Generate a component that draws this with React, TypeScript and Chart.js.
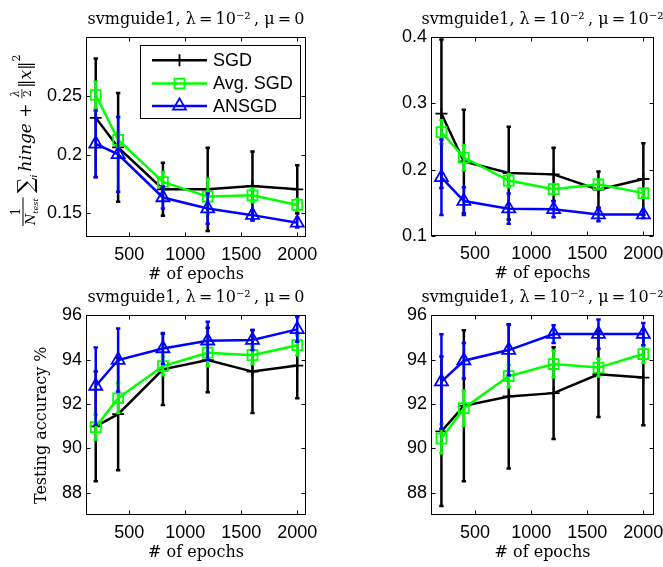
import React, { useEffect, useRef } from 'react';
import { Chart, registerables } from 'chart.js';
import { drawPoint } from 'chart.js/helpers';

Chart.register(...registerables);

// ---------------- data ----------------
const epochs = [200, 400, 800, 1200, 1600, 2000];
const xTickValues = [500, 1000, 1500, 2000];
const seriesNames = ['SGD', 'Avg. SGD', 'ANSGD'];

const TS = '\u2009';
const titleMu0 = `svmguide1, λ${TS}=${TS}10⁻²${TS}, μ${TS}=${TS}0`;
const titleMu2 = `svmguide1, λ${TS}=${TS}10⁻²${TS}, μ${TS}=${TS}10⁻²`;
const xAxisTitle = '# of epochs';
const accAxisTitle = 'Testing accuracy %    ';

// objective, mu = 0
const objMu0Sgd = [0.2314, 0.2062, 0.1706, 0.1706, 0.1734, 0.1706];
const objMu0SgdErr = [0.0505, 0.0463, 0.0226, 0.0354, 0.0293, 0.0205];
const objMu0Avg = [0.2508, 0.2127, 0.1768, 0.1644, 0.1655, 0.1573];
const objMu0AvgErr = [0.0113, 0.006, 0.0085, 0.015, 0.0057, 0.005];
const objMu0Ans = [0.2093, 0.2003, 0.1636, 0.1542, 0.1486, 0.1421];
const objMu0AnsErr = [0.0283, 0.0317, 0.0093, 0.0129, 0.004, 0.004];

// objective, mu = 1e-2
const objMu2Sgd = [0.2846, 0.2124, 0.195, 0.193, 0.17, 0.186];
const objMu2SgdErr = [0.112, 0.078, 0.07, 0.04, 0.0275, 0.054];
const objMu2Avg = [0.2567, 0.2184, 0.1836, 0.1706, 0.178, 0.1647];
const objMu2AvgErr = [0.018, 0.019, 0.01, 0.008, 0.007, 0.005];
const objMu2Ans = [0.1886, 0.1527, 0.1413, 0.1403, 0.1323, 0.1323];
const objMu2AnsErr = [0.057, 0.021, 0.023, 0.012, 0.01, 0.005];

// accuracy, mu = 0
const accMu0Sgd = [90.99, 91.54, 93.56, 93.98, 93.46, 93.73];
const accMu0SgdErr = [2.47, 2.52, 1.6, 1.45, 1.87, 1.47];
const accMu0Avg = [90.96, 92.26, 93.71, 94.31, 94.2, 94.65];
const accMu0AvgErr = [0.56, 0.67, 0.42, 0.6, 0.4, 0.45];
const accMu0Ans = [92.81, 93.98, 94.5, 94.85, 94.88, 95.36];
const accMu0AnsErr = [1.74, 1.42, 0.7, 0.86, 0.45, 0.56];

// accuracy, mu = 1e-2
const accMu2Sgd = [90.77, 91.92, 92.34, 92.49, 93.34, 93.19];
const accMu2SgdErr = [3.37, 3.4, 3.25, 2.07, 1.93, 2.15];
const accMu2Avg = [90.44, 91.81, 93.26, 93.8, 93.64, 94.25];
const accMu2AvgErr = [0.66, 0.8, 0.5, 0.6, 0.4, 0.4];
const accMu2Ans = [93.01, 93.95, 94.43, 95.15, 95.15, 95.15];
const accMu2AnsErr = [2.13, 0.8, 1.14, 0.4, 0.66, 0.5];

const objMu0Ticks = [0.15, 0.2, 0.25];
const objMu0TickLabels = ['0.15', '0.2', '0.25'];
const objMu2Ticks = [0.1, 0.2, 0.3, 0.4];
const objMu2TickLabels = ['0.1', '0.2', '0.3', '0.4'];
const accTicks = [88, 90, 92, 94, 96];
const accTickLabels = ['88', '90', '92', '94', '96'];

// ---------------- styles ----------------
const SANS = "'Liberation Sans', Arial, sans-serif";
const SERIF = "'DejaVu Serif', serif";
const colors = ['#000000', '#00ff00', '#0000ff'];
const markers = ['cross', 'rect', 'triangle'];
const markerRadius = [6, 7, 7.5];

// ---------------- plugins ----------------
const axesBoxPlugin = {
  id: 'axesBox',
  beforeDatasetsDraw(chart: any) {
    const { ctx, chartArea: a, scales } = chart;
    const x = scales.x, y = scales.y;
    const L = Math.round(a.left) + 0.5, T = Math.round(a.top) + 0.5;
    const R = Math.round(a.right) - 0.5, B = Math.round(a.bottom) - 0.5;
    ctx.save();
    ctx.strokeStyle = '#000';
    ctx.lineWidth = 1;
    ctx.strokeRect(L, T, R - L, B - T);
    const tl = 4;
    ctx.beginPath();
    x.ticks.forEach((t: any) => {
      const px = Math.round(x.getPixelForValue(t.value)) + 0.5;
      ctx.moveTo(px, B); ctx.lineTo(px, B - tl);
      ctx.moveTo(px, T); ctx.lineTo(px, T + tl);
    });
    y.ticks.forEach((t: any) => {
      const py = Math.round(y.getPixelForValue(t.value)) + 0.5;
      ctx.moveTo(L, py); ctx.lineTo(L + tl, py);
      ctx.moveTo(R, py); ctx.lineTo(R - tl, py);
    });
    ctx.stroke();
    ctx.restore();
  },
};

const errorBarPlugin = {
  id: 'errorBars',
  beforeDatasetDraw(chart: any, args: any) {
    const ds = chart.data.datasets[args.index];
    if (!ds.errors) return;
    const { ctx, chartArea: a, scales } = chart;
    const x = scales.x, y = scales.y;
    const cap = 2.2;
    ctx.save();
    ctx.beginPath();
    ctx.rect(a.left, a.top, a.right - a.left, a.bottom - a.top);
    ctx.clip();
    ctx.strokeStyle = ds.borderColor;
    ctx.lineWidth = 2.5;
    ctx.beginPath();
    ds.data.forEach((p: any, i: number) => {
      const e = ds.errors[i];
      const px = x.getPixelForValue(p.x);
      const y1 = y.getPixelForValue(p.y + e);
      const y2 = y.getPixelForValue(p.y - e);
      ctx.moveTo(px, y1); ctx.lineTo(px, y2);
      ctx.moveTo(px - cap, y1); ctx.lineTo(px + cap, y1);
      ctx.moveTo(px - cap, y2); ctx.lineTo(px + cap, y2);
    });
    ctx.stroke();
    ctx.restore();
  },
};

const boxLegendPlugin = {
  id: 'boxLegend',
  afterDatasetsDraw(chart: any) {
    const o = chart.options.plugins.boxLegend;
    if (!o || !o.show) return;
    const { ctx, chartArea: a } = chart;
    const L = a.left + 54, T = a.top + 8, W = 161, H = 74;
    ctx.save();
    ctx.fillStyle = '#fff';
    ctx.fillRect(L, T, W, H);
    ctx.strokeStyle = '#000';
    ctx.lineWidth = 1;
    ctx.strokeRect(Math.round(L) + 0.5, Math.round(T) + 0.5, W - 1, H - 1);
    const rows = [23, 46.3, 68.7];
    chart.data.datasets.forEach((ds: any, i: number) => {
      const yy = a.top + rows[i];
      ctx.strokeStyle = ds.borderColor;
      ctx.lineWidth = ds.borderWidth;
      ctx.beginPath();
      ctx.moveTo(a.left + 66, yy);
      ctx.lineTo(a.left + 121, yy);
      ctx.stroke();
      ctx.fillStyle = 'rgba(0,0,0,0)';
      ctx.lineWidth = ds.pointBorderWidth;
      drawPoint(ctx, { pointStyle: ds.pointStyle, radius: ds.pointRadius, borderWidth: ds.pointBorderWidth, rotation: 0 } as any, a.left + 93.5, yy);
      ctx.fillStyle = '#000';
      ctx.font = `18px ${SANS}`;
      ctx.textBaseline = 'middle';
      ctx.textAlign = 'left';
      ctx.fillText(ds.label, a.left + 127, yy + 1);
    });
    ctx.restore();
  },
};

const mathLabelPlugin = {
  id: 'mathLabel',
  afterDraw(chart: any) {
    const o = chart.options.plugins.mathLabel;
    if (!o || !o.show) return;
    const { ctx, chartArea: a } = chart;
    const ox = a.left - 86;
    const oy = a.bottom - 11;
    ctx.save();
    ctx.translate(ox, oy);
    ctx.rotate(-Math.PI / 2);
    ctx.fillStyle = '#000';
    ctx.textBaseline = 'alphabetic';
    ctx.textAlign = 'left';
    const F = (s: number, st = '') => `${st} ${s}px ${SERIF}`.trim();
    const width = (t: string, f: string) => { ctx.font = f; return ctx.measureText(t).width; };
    let x = 0;
    const put = (t: string, f: string, y: number) => { ctx.font = f; ctx.fillText(t, x, y); x += ctx.measureText(t).width; };
    // 1 / N_test
    const wN = width('N', F(13, 'italic'));
    const wT = width('test', F(8, 'italic'));
    const fw = wN + wT + 2;
    const w1 = width('1', F(12));
    ctx.font = F(12); ctx.fillText('1', x + (fw - w1) / 2, 20);
    ctx.fillRect(x, 22.5, fw, 1);
    ctx.font = F(13, 'italic'); ctx.fillText('N', x + 1, 35);
    ctx.font = F(8, 'italic'); ctx.fillText('test', x + 1 + wN, 38);
    x += fw + 4;
    put('∑', F(22), 33);
    put('i', F(10, 'italic'), 37);
    x += 3;
    put('hinge', F(17, 'italic'), 31);
    put(' + ', F(17), 31);
    const wl = width('λ', F(11, 'italic'));
    const w2 = width('2', F(11));
    const fw2 = Math.max(wl, w2) + 2;
    ctx.font = F(11, 'italic'); ctx.fillText('λ', x + (fw2 - wl) / 2, 19);
    ctx.fillRect(x, 21.5, fw2, 0.8);
    ctx.font = F(11); ctx.fillText('2', x + (fw2 - w2) / 2, 31);
    x += fw2 + 1;
    put('‖', F(17), 31);
    put('x', F(17, 'italic'), 31);
    put('‖', F(17), 31);
    put('2', F(11), 20);
    ctx.restore();
  },
};

// ---------------- panels ----------------
type PanelCfg = {
  area: { l: number; t: number; r: number; b: number };
  canvasLeft: number;
  xMin: number; xMax: number;
  yMin: number; yMax: number;
  yTicks: number[]; yTickLabels: string[];
  title: string;
  yTitle?: string;
  mathLabel?: boolean;
  legend?: boolean;
  values: number[][];
  errors: number[][];
};

const TITLE_PAD_TOP = 6;
const TITLE_PAD_BOTTOM = 8;
const TITLE_SIZE = 16;
const TITLE_BLOCK = TITLE_PAD_TOP + TITLE_PAD_BOTTOM + TITLE_SIZE * 1.2;
const XAXIS_H = 52;

const panels: PanelCfg[] = [
  {
    area: { l: 86, t: 37, r: 306, b: 237 }, canvasLeft: 0,
    xMin: 113, xMax: 2078, yMin: 0.13, yMax: 0.3,
    yTicks: objMu0Ticks, yTickLabels: objMu0TickLabels, title: titleMu0,
    mathLabel: true, legend: true,
    values: [objMu0Sgd, objMu0Avg, objMu0Ans], errors: [objMu0SgdErr, objMu0AvgErr, objMu0AnsErr],
  },
  {
    area: { l: 431, t: 37, r: 654, b: 236 }, canvasLeft: 331,
    xMin: 107, xMax: 2095, yMin: 0.1, yMax: 0.4,
    yTicks: objMu2Ticks, yTickLabels: objMu2TickLabels, title: titleMu2,
    values: [objMu2Sgd, objMu2Avg, objMu2Ans], errors: [objMu2SgdErr, objMu2AvgErr, objMu2AnsErr],
  },
  {
    area: { l: 86, t: 315, r: 306, b: 515 }, canvasLeft: 0,
    xMin: 113, xMax: 2078, yMin: 87, yMax: 96,
    yTicks: accTicks, yTickLabels: accTickLabels, title: titleMu0, yTitle: accAxisTitle,
    values: [accMu0Sgd, accMu0Avg, accMu0Ans], errors: [accMu0SgdErr, accMu0AvgErr, accMu0AnsErr],
  },
  {
    area: { l: 431, t: 315, r: 654, b: 515 }, canvasLeft: 331,
    xMin: 107, xMax: 2095, yMin: 87, yMax: 96,
    yTicks: accTicks, yTickLabels: accTickLabels, title: titleMu2,
    values: [accMu2Sgd, accMu2Avg, accMu2Ans], errors: [accMu2SgdErr, accMu2AvgErr, accMu2AnsErr],
  },
];

function canvasWidthOf(p: PanelCfg) {
  const cx = (p.area.l + p.area.r) / 2;
  return Math.round(2 * (cx - p.canvasLeft));
}

function buildConfig(p: PanelCfg): any {
  const cw = canvasWidthOf(p);
  const yAxisW = p.area.l - p.canvasLeft;
  const rightW = cw - (p.area.r - p.canvasLeft);
  const datasets = seriesNames.map((name, k) => ({
    label: name,
    data: epochs.map((x, i) => ({ x, y: p.values[k][i] })),
    errors: p.errors[k],
    borderColor: colors[k],
    backgroundColor: colors[k],
    borderWidth: 2.5,
    pointStyle: markers[k],
    pointRadius: markerRadius[k],
    pointBorderWidth: 1.8,
    pointBorderColor: colors[k],
    pointBackgroundColor: 'rgba(0,0,0,0)',
    tension: 0,
    order: 3 - k,
  }));
  return {
    type: 'line',
    data: { datasets },
    options: {
      animation: false,
      responsive: false,
      events: [],
      layout: { padding: 0 },
      plugins: {
        legend: { display: false },
        tooltip: { enabled: false },
        title: {
          display: true,
          text: p.title,
          color: '#000',
          font: { family: SERIF, size: TITLE_SIZE, weight: 'normal' },
          padding: { top: TITLE_PAD_TOP, bottom: TITLE_PAD_BOTTOM },
        },
        boxLegend: { show: !!p.legend },
        mathLabel: { show: !!p.mathLabel },
      },
      scales: {
        x: {
          type: 'linear',
          min: p.xMin,
          max: p.xMax,
          afterBuildTicks: (s: any) => { s.ticks = xTickValues.map((v) => ({ value: v })); },
          afterFit: (s: any) => { s.height = XAXIS_H; },
          grid: { display: false, drawTicks: false },
          border: { display: false },
          ticks: {
            color: '#000',
            font: { family: SANS, size: 18 },
            padding: 7,
            maxRotation: 0,
            autoSkip: false,
            callback: (v: any) => String(v),
          },
          title: {
            display: true,
            text: xAxisTitle,
            color: '#000',
            font: { family: SERIF, size: 16 },
            padding: { top: 0, bottom: 4.5 },
          },
        },
        y: {
          type: 'linear',
          min: p.yMin,
          max: p.yMax,
          afterBuildTicks: (s: any) => { s.ticks = p.yTicks.map((v) => ({ value: v })); },
          afterFit: (s: any) => { s.width = yAxisW; },
          grid: { display: false, drawTicks: false },
          border: { display: false },
          ticks: {
            color: '#000',
            font: { family: SANS, size: 18 },
            padding: 4,
            autoSkip: false,
            callback: (v: any) => {
              const idx = p.yTicks.indexOf(v);
              return idx >= 0 ? p.yTickLabels[idx] : String(v);
            },
          },
          title: {
            display: !!p.yTitle,
            text: p.yTitle || '',
            color: '#000',
            font: { family: SERIF, size: 16 },
            padding: { top: 32.5, bottom: 0 },
          },
        },
        // empty right-hand spacer so the title is centred over the plot box
        ySpacer: {
          type: 'linear',
          position: 'right',
          display: true,
          afterFit: (s: any) => { s.width = rightW; },
          grid: { display: false, drawTicks: false },
          border: { display: false },
          ticks: { display: false },
          title: { display: false },
        },
      },
    },
    plugins: [axesBoxPlugin, errorBarPlugin, boxLegendPlugin, mathLabelPlugin],
  };
}

function Panel({ p }: { p: PanelCfg }) {
  const ref = useRef<HTMLCanvasElement>(null);
  const top = Math.round(p.area.t - TITLE_BLOCK);
  const height = Math.round(p.area.b - top + XAXIS_H);
  const width = canvasWidthOf(p);
  useEffect(() => {
    if (!ref.current) return;
    const chart = new Chart(ref.current, buildConfig(p));
    return () => chart.destroy();
  }, []);
  return (
    <canvas
      ref={ref}
      width={width}
      height={height}
      style={{ position: 'absolute', left: p.canvasLeft, top, width, height }}
    />
  );
}

export default function App() {
  return (
    <div
      style={{
        position: 'fixed',
        left: 0,
        top: 0,
        width: 663,
        height: 567,
        overflow: 'hidden',
        background: '#fff',
      }}
    >
      {panels.map((p, i) => (
        <Panel key={i} p={p} />
      ))}
    </div>
  );
}
